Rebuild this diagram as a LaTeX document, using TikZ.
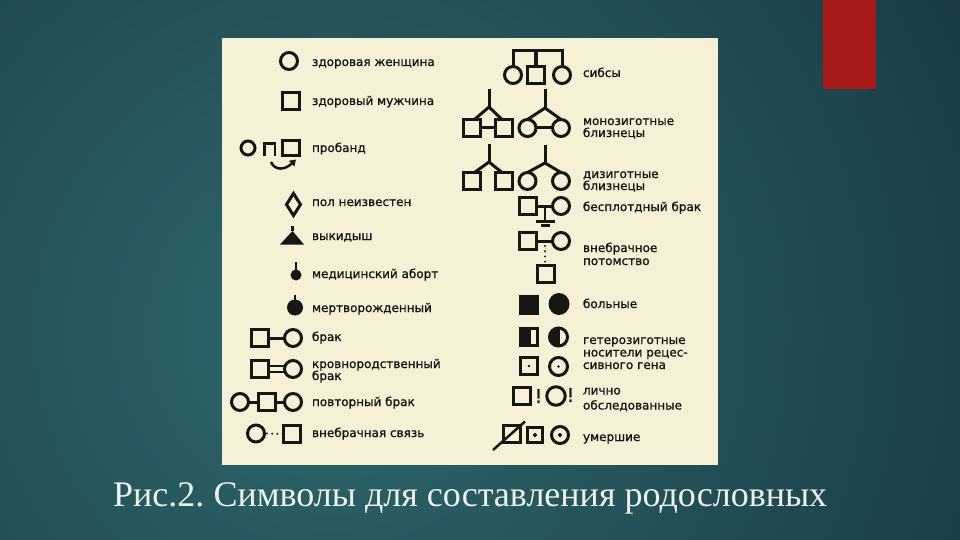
\documentclass[tikz,border=0pt]{standalone}
\usepackage{fontspec}
\usepackage{graphicx}
\setmainfont{Liberation Serif}
\newfontfamily\lblfont[FakeBold=1.2]{DejaVu Sans}
\usetikzlibrary{shapes.geometric,arrows.meta}
\definecolor{bgin}{RGB}{46,104,108}
\definecolor{bgout}{RGB}{19,48,58}
\definecolor{cream}{RGB}{246,241,214}
\definecolor{ink}{RGB}{24,22,20}
\definecolor{redbar}{RGB}{166,26,26}
\definecolor{captxt}{RGB}{236,240,240}
\frenchspacing
\begin{document}
\begin{tikzpicture}[x=1pt,y=-1pt,
  sym/.style={draw=ink, line width=3pt, inner sep=0pt, outer sep=0pt, fill=cream},
  sq/.style={sym, rectangle, minimum width=17pt, minimum height=17pt},
  ci/.style={sym, circle, minimum size=17pt},
  blob/.style={circle, fill=ink, inner sep=0pt, outer sep=0pt},
  link/.style={draw=ink, line width=3pt},
  thin/.style={draw=ink, line width=2.5pt},
  dots/.style={draw=ink, line width=2.2pt, line cap=round, dash pattern=on 0pt off 5.2pt},
  lbl/.style={anchor=base west, inner sep=0pt, outer sep=0pt, text=ink, font=\lblfont\fontsize{12}{14}\selectfont},
  bang/.style={inner sep=0pt, text=ink, font=\lblfont\fontsize{19}{20}\selectfont}
]
\useasboundingbox (0,0) rectangle (960,540);
% background
\begin{scope}
  \clip (0,0) rectangle (960,540);
  \fill[bgout] (0,0) rectangle (960,540);
  \shade[inner color=bgin, outer color=bgout] (330,330) circle (900);
\end{scope}
\fill[redbar] (823,0) rectangle (876,89);
\fill[cream] (222,38) rectangle (718,465);

% ===== left column =====
\node[ci] (w) at (289,61) {};
\node[lbl] (tw) at (312,66) {здоровая женщина};
\node[sq] (m) at (291,101) {};
\node[lbl] (tm) at (312,105) {здоровый мужчина};

% proband
\node[ci, minimum size=14pt] (pc) at (248,148) {};
\draw[thin, line width=2.6pt] (264.5,156) -- (264.5,143.5) -- (275,143.5) -- (275,156);
\node[sq, minimum height=15pt] (ps) at (291,148) {};
\coordinate (pa) at (271,162);
\coordinate (pt) at (296,159.5);
\draw[thin, -{Triangle[length=6pt,width=7.5pt]}] (pa) .. controls (275,171) and (285,170) .. (pt);
\node[lbl] (tp) at (312,152) {пробанд};

% unknown sex
\node[sym, diamond, minimum width=14pt, minimum height=22pt] (dm) at (293.5,204.5) {};
\node[lbl] (td) at (312,206) {пол неизвестен};

% miscarriage
\coordinate (mt) at (292.5,226);
\coordinate (ma) at (292.5,231);
\fill[ink] (280,244.5) -- (ma) -- (304,244.5) -- cycle;
\draw[link] (mt) -- (ma);
\node[lbl] (tmc) at (312,240) {выкидыш};

% abortion
\node[blob, minimum size=11pt] (ab) at (296,275) {};
\coordinate (abt) at (296,262);
\draw[thin] (abt) -- (ab.north);
\node[lbl] (tab) at (312,278) {медицинский аборт};

% stillborn
\node[blob, minimum size=16pt] (sbn) at (295,307.5) {};
\coordinate (sbt) at (295,295);
\draw[thin] (sbt) -- (sbn.north);
\node[lbl] (tsb) at (312,312) {мертворожденный};

% marriage
\node[sq] (b1s) at (260,338) {};
\node[ci] (b1c) at (293,338) {};
\draw[link] (b1s) -- (b1c);
\node[lbl] (tb1) at (312,341) {брак};

% consanguineous
\node[sq] (k1s) at (260,369) {};
\node[ci] (k1c) at (293,369) {};
\draw[thin] ([yshift=3pt]k1s.east) -- ([yshift=3pt]k1c.west);
\draw[thin] ([yshift=-3pt]k1s.east) -- ([yshift=-3pt]k1c.west);
\node[lbl] (tk1) at (312,368) {кровнородственный};
\node[lbl] (tk2) at (312,380) {брак};

% repeated marriage
\node[ci] (r1) at (240,402) {};
\node[sq] (r2) at (267,402) {};
\node[ci] (r3) at (293,402) {};
\draw[link] (r1) -- (r2);
\draw[link] (r2) -- (r3);
\node[lbl] (tr) at (312,406) {повторный брак};

% extramarital
\node[ci] (v1c) at (256,433.5) {};
\node[sq] (v1s) at (292,434) {};
\draw[dots] ([xshift=2.5pt]v1c.east) -- (v1s.west);
\node[lbl] (tv) at (312,437) {внебрачная связь};

% ===== right column =====
% siblings
\node[ci] (s1) at (513,75) {};
\node[sq] (s2) at (536,75) {};
\node[ci] (s3) at (562,75) {};
\coordinate (sbar) at (536,51);
\draw[link] (s1.north) -- (s1.north |- sbar) -- (s3.north |- sbar) -- (s3.north);
\draw[link, line width=3.4pt] (s2.north) -- (sbar);
\node[lbl] (ts) at (583,77) {сибсы};

% monozygotic twins
\node[sq] (m1) at (472,128) {};
\node[sq] (m2) at (504,128) {};
\coordinate (mta) at (489,89);
\coordinate (mtb) at (489,107);
\draw[link] (m1) -- (m2);
\draw[link] (mta) -- (mtb);
\draw[link] ([xshift=2.5pt]m1.north) -- (mtb) -- ([xshift=-2pt]m2.north);
\node[ci] (c1) at (527.5,128) {};
\node[ci] (c2) at (561,128) {};
\coordinate (mca) at (545,89);
\coordinate (mcb) at (545,108);
\draw[link] (c1) -- (c2);
\draw[link] (mca) -- (mcb);
\draw[link] (c1.north) -- (mcb) -- (c2.north);
\node[lbl] (tm1) at (583,125) {монозиготные};
\node[lbl] (tm2) at (583,137) {близнецы};

% dizygotic twins
\node[sq] (d1) at (472,181) {};
\node[sq] (d2) at (504,181) {};
\coordinate (dta) at (489,144);
\coordinate (dtb) at (489,162);
\draw[link] (dta) -- (dtb);
\draw[link] ([xshift=2.5pt]d1.north) -- (dtb) -- ([xshift=-2pt]d2.north);
\node[ci] (d3) at (527.5,181) {};
\node[ci] (d4) at (561,181) {};
\coordinate (dca) at (545,145);
\coordinate (dcb) at (545,163);
\draw[link] (dca) -- (dcb);
\draw[link] (d3.north) -- (dcb) -- (d4.north);
\node[lbl] (td1) at (583,178) {дизиготные};
\node[lbl] (td2) at (583,190) {близнецы};

% childless marriage
\node[sq] (bs) at (528,206) {};
\node[ci] (bc) at (561,206) {};
\draw[link] (bs) -- (bc);
\coordinate (bm) at (545,206);
\coordinate (bg) at (545,221.5);
\draw[thin] (bm) -- (bg);
\draw[thin] ([xshift=-9pt]bg) -- ([xshift=10pt]bg);
\draw[thin] ([xshift=-4pt,yshift=-4pt]bg) -- ([xshift=5pt,yshift=-4pt]bg);
\node[lbl] (tbs) at (583,211) {бесплотдный брак};

% illegitimate offspring
\node[sq] (es) at (528,241) {};
\node[ci] (ec) at (561,241) {};
\draw[link] (es) -- (ec);
\coordinate (em) at (545,241);
\node[sq] (ek) at (546,274) {};
\draw[dots] ([yshift=-5pt]em) -- ([xshift=-1pt,yshift=3pt]ek.north);
\node[lbl] (te1) at (583,252) {внебрачное};
\node[lbl] (te2) at (583,265) {потомство};

% affected
\node[sq, fill=ink] (a1) at (529,305) {};
\node[blob, minimum width=21pt, minimum height=22pt, ellipse] (a2) at (559,304) {};
\node[lbl] (ta) at (583,308) {больные};

% heterozygous carriers
\node[sq, path picture={\fill[ink] (path picture bounding box.north west) rectangle ([xshift=1.5pt]path picture bounding box.south);}] (h1) at (529,337) {};
\node[ci, minimum size=18pt, path picture={\fill[ink] (path picture bounding box.north west) rectangle ([xshift=1pt]path picture bounding box.south);}] (h2) at (558.5,337) {};
\node[lbl] (th1) at (583,344) {гетерозиготные};
\node[lbl] (th2) at (583,356.5) {носители рецес-};
\node[lbl] (th3) at (583,369) {сивного гена};

\node[sq] (q1) at (529,366) {};
\fill[ink] (q1.center) circle (1.4);
\node[ci, minimum size=18pt] (q2) at (558.5,366.5) {};
\fill[ink] (q2.center) circle (1.4);

% personally examined
\node[sq] (l1) at (522,396) {};
\node[bang] (l1b) at (538.5,396) {!};
\node[ci, minimum size=18.5pt] (l2) at (556,396) {};
\node[bang] (l2b) at (570.5,395) {!};
\node[lbl] (tl1) at (583,394.5) {лично};
\node[lbl] (tl2) at (583,409.5) {обследованные};

% deceased
\node[sq] (u1) at (512,434) {};
\coordinate (ua) at (493,450);
\coordinate (ub) at (525,421.5);
\draw[thin] (ua) -- (ub);
\node[sq, minimum size=15pt] (u2) at (535,435) {};
\draw[ink, line width=1.8pt] ([xshift=-2.4pt]u2.center) -- ([xshift=2.4pt]u2.center);
\draw[ink, line width=1.8pt] ([yshift=-2.4pt]u2.center) -- ([yshift=2.4pt]u2.center);
\node[ci] (u3) at (560,435) {};
\draw[ink, line width=1.8pt] ([xshift=-2.4pt]u3.center) -- ([xshift=2.4pt]u3.center);
\draw[ink, line width=1.8pt] ([yshift=-2.4pt]u3.center) -- ([yshift=2.4pt]u3.center);
\node[lbl] (tu) at (583,441) {умершие};

% caption
\node[anchor=base west, inner sep=0pt, text=captxt] (cap) at (113,506)
  {\resizebox{714pt}{\height}{\fontsize{36}{38}\selectfont Рис.2. Символы для составления родословных}};
\end{tikzpicture}
\end{document}
